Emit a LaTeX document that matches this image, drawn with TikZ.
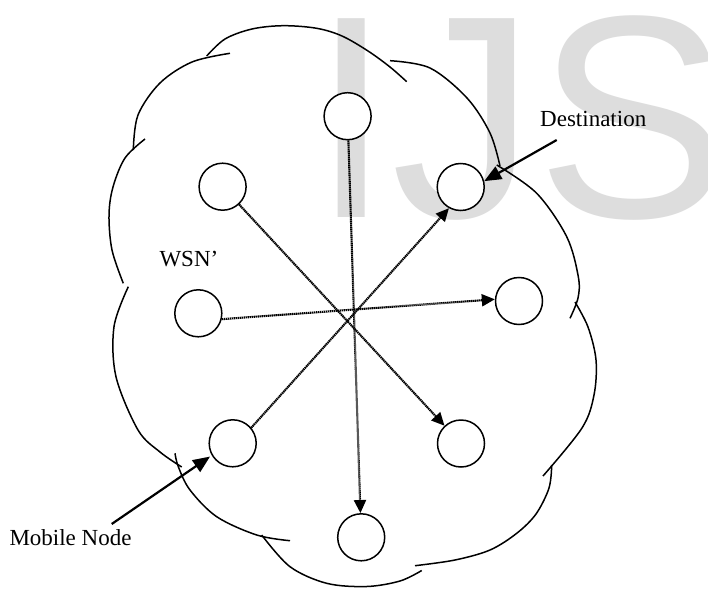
\documentclass[tikz,border=0pt]{standalone}
\usepackage{fontspec}
\setmainfont{Liberation Serif}
\newfontfamily\wmfont{Liberation Sans}
\usetikzlibrary{arrows.meta}
\definecolor{wmgray}{RGB}{221,221,221}
\begin{document}
\begin{tikzpicture}[x=1pt,y=-1pt,
  sensor/.style={circle, draw, fill=white, line width=1.5pt, minimum size=47pt, inner sep=0pt},
  lobe/.style={line width=1.5pt},
  dotarrow/.style={line width=2.1pt, dash pattern=on 1.4pt off 0.6pt, -{Triangle[length=13pt,width=12pt]}},
  solidarrow/.style={line width=2.2pt, -{Triangle[length=17pt,width=14pt]}},
  label/.style={anchor=base west, inner sep=0pt, font=\fontsize{23}{27}\selectfont}
]
\useasboundingbox (0,0) rectangle (708,588);
\clip (0,0) rectangle (708,588);
\fill[white] (0,0) rectangle (708,588);
% watermark
\node[anchor=base west, inner sep=0pt, text=wmgray, font=\wmfont\fontsize{289}{300}\selectfont] (wm) at (311,217) {IJS};

% cloud lobes
\draw[lobe] plot[smooth, tension=0.55] coordinates {(133.3,150) (138,115) (160,83) (192,62) (230,53.3)};
\draw[lobe] plot[smooth, tension=0.55] coordinates {(206.7,56) (225,39) (252,29) (283.3,25.7) (316.7,28.3) (342,36) (368,51) (390,67) (406.7,81.7)};
\draw[lobe] plot[smooth, tension=0.55] coordinates {(390,60.7) (430,68) (467,98) (490,133) (500,166)};
\draw[lobe] plot[smooth, tension=0.55] coordinates {(496.7,165) (536.7,193.3) (566.7,236.7) (578.3,276.7) (578,298) (570,318.3)};
\draw[lobe] plot[smooth, tension=0.55] coordinates {(575,302) (588,327) (596,360) (594,395) (582,428) (543,476)};
\draw[lobe] plot[smooth, tension=0.55] coordinates {(551.7,465) (549,488) (536,514) (516.7,533.3) (490,550) (455,560) (415,565.7)};
\draw[lobe] plot[smooth, tension=0.55] coordinates {(421.7,570.5) (400,581) (366.7,586.5) (326.7,583.3) (290,566.7) (261.7,535)};
\draw[lobe] plot[smooth, tension=0.55] coordinates {(290,540.7) (256.7,535) (216.7,516.7) (190,490) (178.3,466.7) (175,453.3)};
\draw[lobe] plot[smooth, tension=0.55] coordinates {(128.3,286.7) (114,326.7) (116,376.7) (138,430) (160,452) (181.7,467)};
\draw[lobe] plot[smooth, tension=0.55] coordinates {(145,139) (125,158) (113,187) (109,215) (112,250) (123.3,283.3)};

% sensor nodes
\node[sensor] (top) at (347.6,116.2) {};
\node[sensor] (ul)  at (222.6,186.7) {};
\node[sensor] (ur)  at (460.7,187) {};
\node[sensor] (lf)  at (198.3,313.3) {};
\node[sensor] (rt)  at (519,301) {};
\node[sensor] (ll)  at (232.7,443.3) {};
\node[sensor] (lr)  at (461,443.5) {};
\node[sensor] (bot) at (361.2,537.3) {};

% labels
\node[label] (dest) at (540,126.7) {Destination};
\node[label] (mob)  at (9.3,545.7) {Mobile Node};
\node[label] (wsn)  at (159.3,266.7) {WSN’};

% dotted connectors
\draw[dotarrow] (top) -- (bot);
\draw[dotarrow] (ul) -- (lr);
\draw[dotarrow] (lf.-14) -- (rt.176);
\draw[dotarrow] (ll.40) -- (ur.241);

% pointer arrows
\coordinate (dstart) at (556.7,140);
\draw[solidarrow] (dstart) -- (ur.14);
\coordinate (mstart) at (111.7,524);
\draw[solidarrow, shorten >=2pt] (mstart) -- (ll.210);
\end{tikzpicture}
\end{document}
